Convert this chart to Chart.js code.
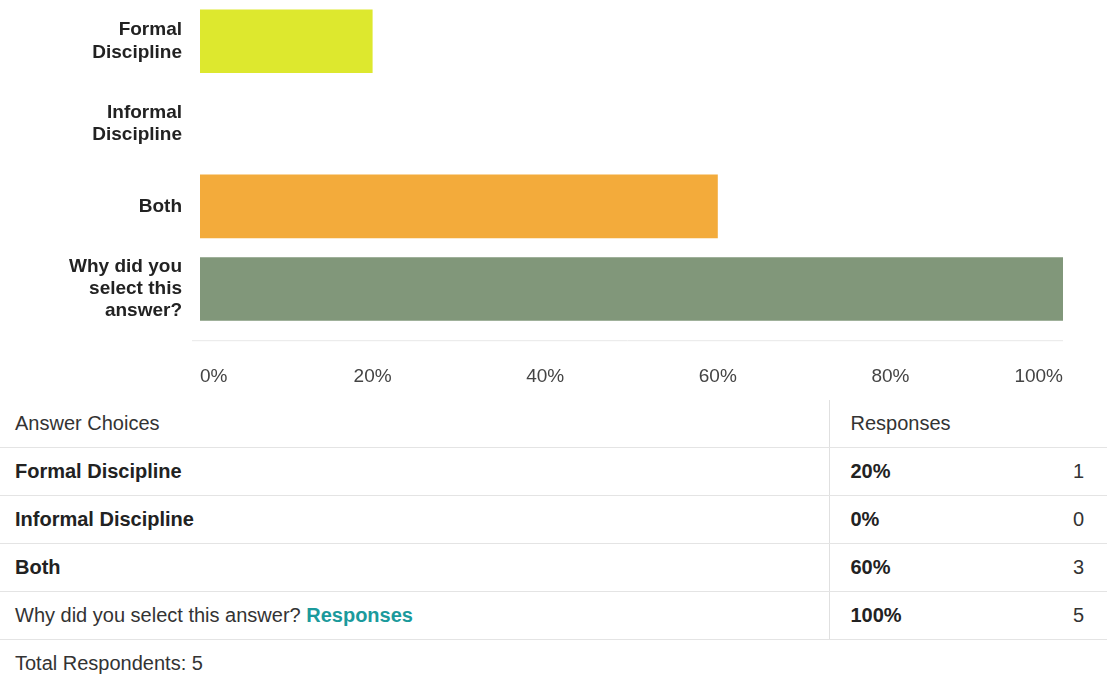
<!DOCTYPE html>
<html>
<head>
<meta charset="utf-8">
<script src="https://cdn.jsdelivr.net/npm/chart.js@4.4.1/dist/chart.umd.min.js"></script>
<style>
	body { margin: 0; background: #fff; font-family: "Liberation Sans", Arial, sans-serif; color: #333; }
	#chart-box { position: absolute; left: 0; top: 0; width: 1107px; height: 433px; }
	table { position: absolute; left: 0; top: 400px; width: 1107px; border-collapse: collapse; table-layout: fixed; font-size: 20px; }
	td { height: 47px; padding: 0 0 0 15px; border-bottom: 1px solid #e4e4e4; color: #333; white-space: nowrap; }
	td.pct { border-left: 1px solid #e0e0e0; padding-left: 21px; }
	td.count { text-align: right; padding-right: 23px; }
	tr.choice td { font-weight: bold; color: #222; }
	tr.choice td.count { font-weight: normal; color: #333; }
	tr.last td.first { font-weight: normal; color: #333; }
	.link { color: #1b9a9c; font-weight: bold; }
	tr.total td { border-bottom: none; }
</style>
</head>
<body>
<table id="answers">
	<colgroup><col style="width:829px"><col style="width:200px"><col style="width:78px"></colgroup>
	<tbody id="answer-rows"></tbody>
</table>
<div id="chart-box"><canvas id="bar-canvas"></canvas></div>

<script>
// Survey answers
const categories = ["Formal Discipline", "Informal Discipline", "Both", "Why did you select this answer?"];
const axisLabels = [["Formal", "Discipline"], ["Informal", "Discipline"], ["Both"], ["Why did you", "select this", "answer?"]];
const percents = [20, 0, 60, 100];
const counts = [1, 0, 3, 5];
const barColors = ["#dde82e", "#c9c9c9", "#f3ab3b", "#81977a"];
const totalRespondents = 5;

// faint rule drawn a little under the bars
const baseRule = {
	id: "baseRule",
	afterDraw(chart) {
		const ctx = chart.ctx;
		const area = chart.chartArea;
		ctx.save();
		ctx.strokeStyle = "#e8e8e8";
		ctx.lineWidth = 1;
		ctx.beginPath();
		ctx.moveTo(area.left - 8, area.bottom + 10.5);
		ctx.lineTo(area.right, area.bottom + 10.5);
		ctx.stroke();
		ctx.restore();
	}
};

let ctx = document.getElementById("bar-canvas").getContext("2d");

let chart = new Chart(ctx, {
	type: "bar",
	data: {
		labels: axisLabels,
		datasets: [
			{
			label: "Responses",
			data: percents,
			backgroundColor: barColors,
			borderWidth: 0,
			categoryPercentage: 0.77,
			barPercentage: 1.0,
			}
		]
	},
	options: {
		indexAxis: "y",
		responsive: true,
		maintainAspectRatio: false,
		animation: false,
		layout: {
			padding: { top: 0, right: 44, bottom: 10, left: 0 }
		},
		scales: {
			x: {
				min: 0,
				max: 100,
				grid: { display: false, drawTicks: false },
				border: { display: false },
				ticks: {
					stepSize: 20,
					align: "inner",
					padding: 35,
					color: "#444",
					font: { family: "Liberation Sans", size: 19 },
					callback: (v) => v + "%"
				}
			},
			y: {
				grid: { display: false, drawTicks: false },
				border: { display: false },
				afterFit: (scale) => {
					// fixed label column, no extra room above/below the bars
					scale.width = 200;
					scale.paddingTop = 0;
					scale.paddingBottom = 0;
				},
				ticks: {
					autoSkip: false,
					padding: 18,
					color: "#222",
					font: { family: "Liberation Sans", size: 19, weight: "bold", lineHeight: 1.17 }
				}
			}
		},
		plugins: {
			legend: { display: false },
			tooltip: { enabled: false }
		}
	},
	plugins: [baseRule]
});

// Answer table under the chart
const body = document.getElementById("answer-rows");
let rows = `<tr><td>Answer Choices</td><td class="pct" colspan="2">Responses</td></tr>`;
categories.forEach((name, i) => {
	const last = i === categories.length - 1;
	const label = last ? `${name} <span class="link">Responses</span>` : name;
	rows += `<tr class="choice${last ? " last" : ""}"><td class="first">${label}</td><td class="pct">${percents[i]}%</td><td class="count">${counts[i]}</td></tr>`;
});
rows += `<tr class="total"><td colspan="3">Total Respondents: ${totalRespondents}</td></tr>`;
body.innerHTML = rows;
</script>
</body>
</html>
